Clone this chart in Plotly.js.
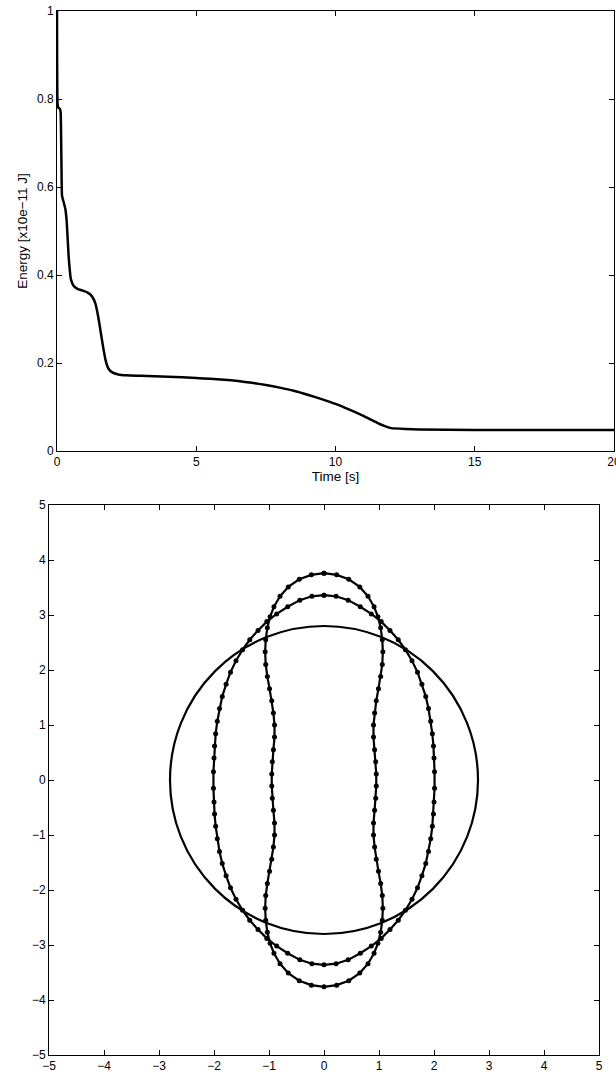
<!DOCTYPE html>
<html>
<head>
<meta charset="utf-8">
<script src="https://cdn.plot.ly/plotly-3.0.1.min.js"></script>
<style>html,body{margin:0;padding:0;background:#fff;}#chart{width:616px;height:1074px;}</style>
</head>
<body>
<div id="chart"></div>
<script>
// ---- Top panel: energy decay ----
const time = [0, 0.02, 0.05, 0.1, 0.13, 0.16, 0.18, 0.22, 0.3, 0.35, 0.42, 0.5, 0.6, 0.75, 0.9, 1.1, 1.25, 1.38, 1.48, 1.57, 1.66, 1.75, 1.85, 2.0, 2.2, 2.5, 3, 4, 5, 5.5, 6, 6.5, 7, 7.5, 8, 8.5, 9, 9.5, 10, 10.5, 11, 11.25, 11.5, 11.75, 12, 12.5, 13, 15, 20];
const energy = [1, 0.79, 0.78, 0.778, 0.77, 0.65, 0.58, 0.57, 0.55, 0.52, 0.44, 0.39, 0.375, 0.368, 0.365, 0.36, 0.352, 0.335, 0.305, 0.27, 0.235, 0.205, 0.187, 0.178, 0.174, 0.172, 0.171, 0.169, 0.166, 0.164, 0.162, 0.159, 0.155, 0.15, 0.144, 0.137, 0.128, 0.118, 0.107, 0.094, 0.08, 0.072, 0.064, 0.057, 0.052, 0.05, 0.049, 0.048, 0.048];
const topXTicks = [0, 5, 10, 15, 20];
const topYTicks = [0, 0.2, 0.4, 0.6, 0.8, 1];
const topYLabels = ["0", "0.2", "0.4", "0.6", "0.8", "1"];

// ---- Bottom panel: shapes (first quadrant, from top down to the equator) ----
const outerQX = [0, 0.22, 0.44, 0.66, 0.86, 1.04, 1.2, 1.35, 1.48, 1.6, 1.7, 1.78, 1.85, 1.9, 1.94, 1.97, 1.99, 2.0, 2.01];
const outerQY = [3.36, 3.34, 3.27, 3.15, 3.02, 2.88, 2.72, 2.55, 2.37, 2.17, 1.96, 1.74, 1.52, 1.3, 1.07, 0.84, 0.62, 0.4, 0.15];
const innerQX = [0, 0.23, 0.45, 0.65, 0.8, 0.91, 0.98, 1.03, 1.06, 1.07, 1.06, 1.03, 0.99, 0.95, 0.92, 0.9, 0.9, 0.92, 0.94, 0.95];
const innerQY = [3.76, 3.73, 3.65, 3.51, 3.34, 3.15, 2.97, 2.77, 2.55, 2.33, 2.1, 1.88, 1.66, 1.44, 1.22, 1.0, 0.78, 0.55, 0.33, 0.11];
const circleR = 2.8;
const botTicks = [-5, -4, -3, -2, -1, 0, 1, 2, 3, 4, 5];

function closeCurve(qx, qy) {
  const xs = [], ys = [];
  const n = qx.length;
  for (let i = 0; i < n; i++) { xs.push(qx[i]); ys.push(qy[i]); }
  for (let i = n - 1; i >= 0; i--) { xs.push(qx[i]); ys.push(-qy[i]); }
  for (let i = 1; i < n; i++) { xs.push(-qx[i]); ys.push(-qy[i]); }
  for (let i = n - 1; i >= 0; i--) { xs.push(-qx[i]); ys.push(qy[i]); }
  return [xs, ys];
}
const outer = closeCurve(outerQX, outerQY);
const inner = closeCurve(innerQX, innerQY);

const W = 616, H = 1074;
const fam = 'Liberation Sans, Arial, sans-serif';
const font = {family: fam, size: 12, color: '#000'};
const titleFont = {family: fam, size: 13.5, color: '#000'};

const axisCommon = {
  showline: true, linecolor: '#000', linewidth: 1, mirror: 'ticks',
  ticks: 'inside', ticklen: 5, tickwidth: 1, tickcolor: '#000',
  showgrid: false, zeroline: false, tickfont: font, fixedrange: true,
  ticklabeloverflow: 'allow'
};

const traces = [
  {x: time, y: energy, xaxis: 'x', yaxis: 'y', mode: 'lines',
   line: {color: '#000', width: 2.5, shape: 'spline', smoothing: 0.4}, hoverinfo: 'skip'},
  {x: outer[0], y: outer[1], xaxis: 'x2', yaxis: 'y2', mode: 'lines+markers',
   line: {color: '#000', width: 2.2}, marker: {color: '#000', size: 5}, hoverinfo: 'skip'},
  {x: inner[0], y: inner[1], xaxis: 'x2', yaxis: 'y2', mode: 'lines+markers',
   line: {color: '#000', width: 2.2}, marker: {color: '#000', size: 5}, hoverinfo: 'skip'}
];

const layout = {
  width: W, height: H, margin: {l: 0, r: 0, t: 0, b: 0},
  paper_bgcolor: '#fff', plot_bgcolor: '#fff', showlegend: false, font: font,
  xaxis: Object.assign({}, axisCommon, {
    domain: [57 / W, 614 / W], range: [0, 20], tickvals: topXTicks,
    title: {text: 'Time [s]', font: titleFont, standoff: 2},
    anchor: 'y'
  }),
  yaxis: Object.assign({}, axisCommon, {
    domain: [1 - 451 / H, 1 - 11 / H], range: [0, 1], tickvals: topYTicks, ticktext: topYLabels,
    title: {text: 'Energy [x10e\u221211 J]', font: titleFont, standoff: 6},
    anchor: 'x'
  }),
  xaxis2: Object.assign({}, axisCommon, {
    domain: [49 / W, 599 / W], range: [-5, 5], tickvals: botTicks, anchor: 'y2'
  }),
  yaxis2: Object.assign({}, axisCommon, {
    domain: [1 - 1055 / H, 1 - 505 / H], range: [-5, 5], tickvals: botTicks, anchor: 'x2'
  }),
  shapes: [
    {type: 'circle', xref: 'x2', yref: 'y2', x0: -circleR, x1: circleR, y0: -circleR, y1: circleR,
     line: {color: '#000', width: 2.2}}
  ]
};

Plotly.newPlot('chart', traces, layout, {displayModeBar: false, staticPlot: true});
</script>
</body>
</html>
